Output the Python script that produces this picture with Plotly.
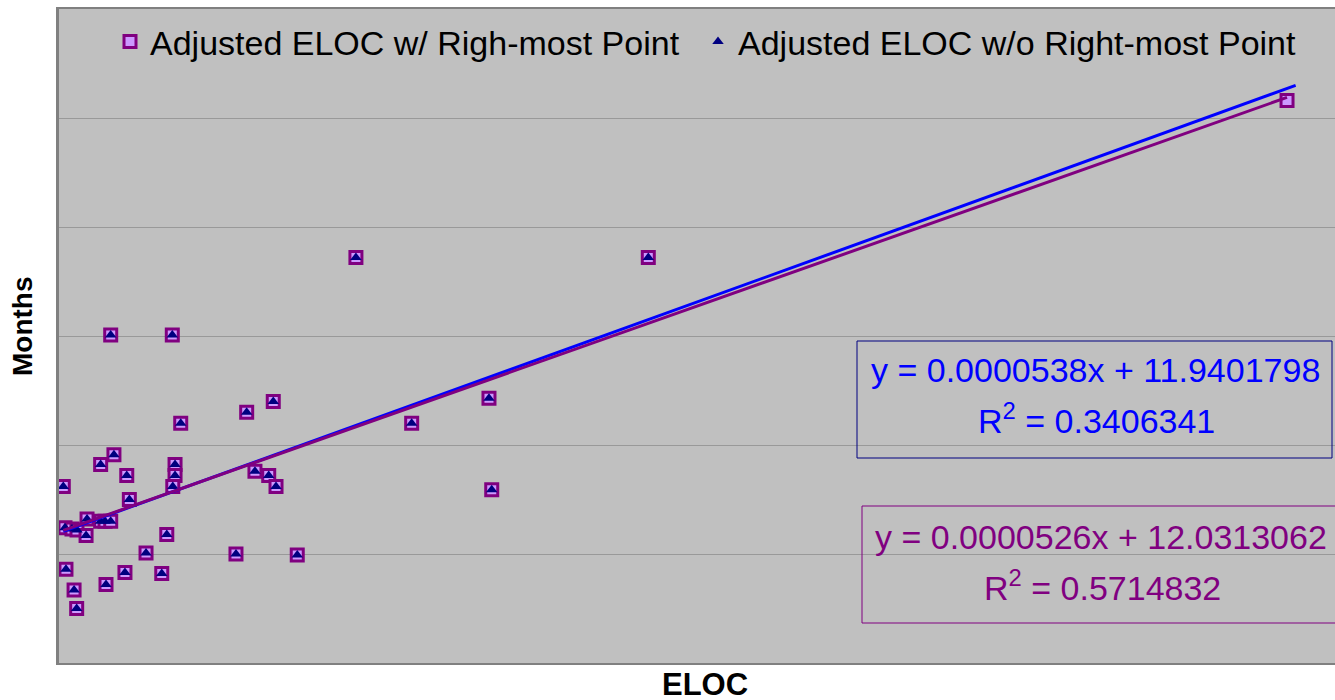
import plotly.graph_objects as go

# ---------------- data ----------------
eloc_all = [2650, 3700, 8000, 11100, 16700, 17300, 25700, 28400, 31900,
            25700, 33900, 41800, 43400, 31900, 69900, 71600, 71600, 70200,
            75100, 66500, 53700, 109200, 147000, 4300, 40700, 63400, 29000,
            9300, 10900, 120900, 129400, 133900, 115800, 132200, 183200,
            217600, 265300, 267000, 363600, 757700]
months_all = [16.2, 12.4, 12.3, 12.2, 11.7, 13.2, 13.0, 13.0, 13.0,
              18.2, 19.1, 17.2, 15.0, 30.1, 30.1, 18.2, 17.2, 16.2,
              22.0, 11.8, 10.1, 10.0, 9.9, 8.6, 8.3, 8.2, 7.2,
              6.7, 5.0, 17.6, 17.2, 16.2, 23.0, 24.0, 37.2,
              22.0, 24.3, 15.9, 37.2, 51.6]
# second series: same points without the right-most one
eloc_wo = eloc_all[:-1]
months_wo = months_all[:-1]

series_names = ["Adjusted ELOC w/ Righ-most Point",
                "Adjusted ELOC w/o Right-most Point"]

# trend lines (slope, intercept, x-extent)
trend_w_slope, trend_w_intercept = 0.0000526, 12.0313062
trend_wo_slope, trend_wo_intercept = 0.0000538, 11.9401798
trend_w_x = [2650, 757700]
trend_wo_x = [2650, 763000]

eq_w = ["y = 0.0000526x + 12.0313062", "R<sup>2</sup> = 0.5714832"]
eq_wo = ["y = 0.0000538x + 11.9401798", "R<sup>2</sup> = 0.3406341"]

x_range = [0, 787300]
y_range = [0, 60]
y_dtick = 10

# ---------------- layout helpers ----------------
# body margin is removed by post_script, so the figure sits at (0, 0)
W, H = 1335, 700
SL, ST, SR, SB = 59, 9, 1335, 663          # plot area in screen pixels
L, T = SL, ST
R, B = W - SR, H - SB
PW, PH = SR - SL, SB - ST


def px(xp):
    return (xp - SL) / PW


def py(yp):
    return (SB - yp) / PH


FONT = "Liberation Sans, Arial, sans-serif"
PURPLE = "#800080"
BLUE = "#0000FF"
NAVY = "#000080"

fig = go.Figure()

fig.add_trace(go.Scatter(
    x=eloc_all, y=months_all, mode="markers", name=series_names[0],
    legendwidth=543,
    marker=dict(symbol="square", size=12, color="#CC99FF",
                line=dict(color=PURPLE, width=3))))
fig.add_trace(go.Scatter(
    x=eloc_wo, y=months_wo, mode="markers", name=series_names[1],
    legendwidth=580,
    marker=dict(symbol="triangle-up", size=10, color=NAVY,
                line=dict(width=0))))

fig.add_trace(go.Scatter(
    x=trend_wo_x, y=[trend_wo_slope * v + trend_wo_intercept for v in trend_wo_x],
    mode="lines", line=dict(color=BLUE, width=3), showlegend=False))
fig.add_trace(go.Scatter(
    x=trend_w_x, y=[trend_w_slope * v + trend_w_intercept for v in trend_w_x],
    mode="lines", line=dict(color=PURPLE, width=3), showlegend=False))

shapes = [
    dict(type="rect", xref="paper", yref="paper",
         x0=px(857), x1=px(1332), y0=py(458), y1=py(341),
         line=dict(color=NAVY, width=1), fillcolor="rgba(0,0,0,0)"),
    dict(type="rect", xref="paper", yref="paper",
         x0=px(862), x1=px(1340), y0=py(623), y1=py(506),
         line=dict(color=PURPLE, width=1), fillcolor="rgba(0,0,0,0)"),
]

annotations = []
for txt, cx, cy, col in [
    (eq_wo[0], 1095, 370, BLUE), (eq_wo[1], 1096, 419, BLUE),
    (eq_w[0], 1101, 537, PURPLE), (eq_w[1], 1102, 585, PURPLE),
]:
    annotations.append(dict(text=txt, xref="paper", yref="paper",
                            x=px(cx), y=py(cy), xanchor="center",
                            yanchor="middle", showarrow=False,
                            font=dict(family=FONT, size=34, color=col)))

annotations.append(dict(text="<b>ELOC</b>", xref="paper", yref="paper",
                        x=px(705), y=py(684), xanchor="center", yanchor="middle",
                        showarrow=False, font=dict(family=FONT, size=31, color="black")))
annotations.append(dict(text="<b>Months</b>", xref="paper", yref="paper",
                        x=px(22), y=py(326), xanchor="center", yanchor="middle",
                        textangle=-90, showarrow=False,
                        font=dict(family=FONT, size=28, color="black")))

fig.update_layout(
    width=W, height=H,
    margin=dict(l=L, r=R, t=T, b=B, pad=0),
    paper_bgcolor="white", plot_bgcolor="#C0C0C0",
    font=dict(family=FONT, color="black"),
    shapes=shapes, annotations=annotations,
    legend=dict(orientation="h", x=px(110), xanchor="left",
                y=py(42), yanchor="middle",
                bgcolor="rgba(0,0,0,0)", font=dict(family=FONT, size=34),
                itemsizing="trace"),
    xaxis=dict(range=x_range, showgrid=False, zeroline=False,
               showticklabels=False, ticks="", showline=True,
               linecolor="#808080", linewidth=2, mirror=True),
    yaxis=dict(range=y_range, dtick=y_dtick, showgrid=True,
               gridcolor="#999999", gridwidth=1, zeroline=False,
               showticklabels=False, ticks="", showline=True,
               linecolor="#808080", linewidth=3),
)

fig.write_html(
    "out.html",
    config={"displayModeBar": False},
    post_script="document.body.style.margin='0';"
                "document.body.style.overflow='hidden';"
                "document.documentElement.style.overflow='hidden';",
)
